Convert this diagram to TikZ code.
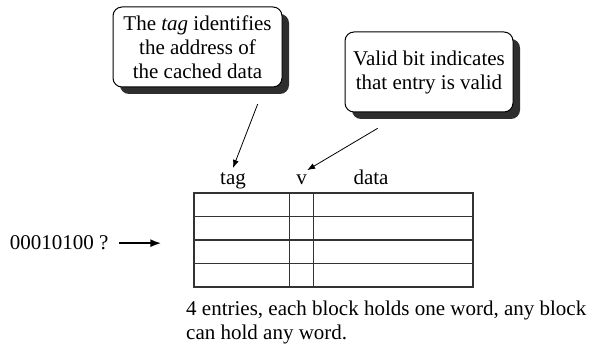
\documentclass[tikz,border=0pt]{standalone}
\usepackage{fontspec}
\setmainfont{Liberation Serif}
\usetikzlibrary{arrows.meta,shadows,calc}

\begin{document}
\begin{tikzpicture}[x=1pt,y=-1pt,font=\fontsize{21}{24}\selectfont,
        note/.style={draw,line width=1pt,rounded corners=9pt,fill=white,align=center,
            minimum height=80pt,inner sep=0pt,
            drop shadow={shadow xshift=7pt,shadow yshift=-7pt,fill=black!82,opacity=1}},
        head/.style={inner xsep=0pt,inner ysep=5pt,anchor=base},
        pointer/.style={-{Latex[length=8pt,width=6pt]},line width=0.8pt},
        feed/.style={-{Latex[length=11pt,width=8pt]},line width=2pt},
        cell/.style={line width=1.1pt,draw=black!80}]
        \useasboundingbox (0,0) rectangle (597,344);
        % The notes
        \node[note,minimum width=169pt] (tagnote) at (197.5,47)
            {The \textit{tag} identifies\\the address of\\the cached data};
        \node[note,minimum width=168pt] (validnote) at (429,72)
            {Valid bit indicates\\that entry is valid};
        % The cache
        \node[cell,minimum width=279pt,minimum height=94pt,inner sep=0pt]
            (cache) at (333.5,240) {};
        \foreach \y in {1,2,3}
            \draw[cell] ($(cache.north west)!\y/4!(cache.south west)$)
                -- ($(cache.north east)!\y/4!(cache.south east)$);
        \foreach \x in {0.344,0.430}
            \draw[cell] ($(cache.north west)!\x!(cache.north east)$)
                -- ($(cache.south west)!\x!(cache.south east)$);
        % Column heads
        \node[head] (taghead) at (233,185) {tag};
        \node[head] (vhead) at (301.7,185) {v};
        \node[head] (datahead) at (371,185) {data};
        % Point the notes at the heads
        \coordinate (tagfrom) at (257.7,104);
        \coordinate (validfrom) at (377.7,128.3);
        \draw[pointer] (tagfrom) -- (taghead.north);
        \draw[pointer] (validfrom) -- (vhead.north east);
        % The address going in
        \node[anchor=base east] (addr) at (112,250) {00010100 ?};
        \draw[feed,shorten <=7pt,shorten >=32pt] (addr.east) -- (addr.east -| cache.west);
        % The caption
        \node[anchor=north west,align=left,inner sep=0pt] (caption) at (186,300.7)
            {4 entries, each block holds one word, any block\\can hold any word.};
    \end{tikzpicture}
\end{document}
